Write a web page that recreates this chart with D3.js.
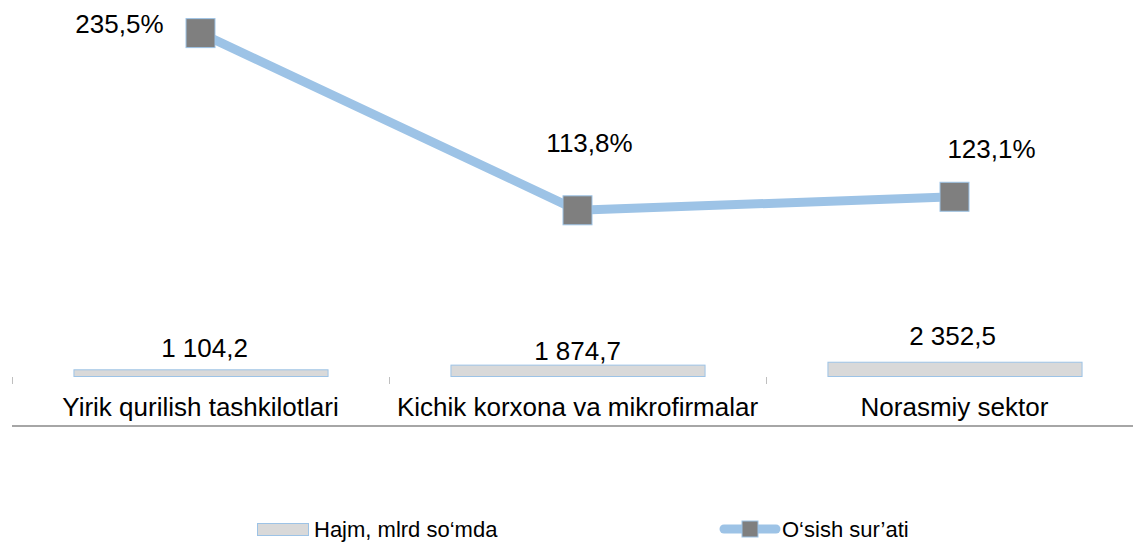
<!DOCTYPE html>
<html>
<head>
<meta charset="utf-8">
<script src="https://cdn.jsdelivr.net/npm/d3@7"></script>
<style>
  body { margin: 0; background: #fff; }
  text { font-family: "Liberation Sans", Arial, sans-serif; fill: #000; }
</style>
</head>
<body>
<div id="chart"></div>
<script>
// data
const categories = ["Yirik qurilish tashkilotlari", "Kichik korxona va mikrofirmalar", "Norasmiy sektor"];
const volume = [1104.2, 1874.7, 2352.5];      // Hajm, mlrd so‘mda
const growth = [235.5, 113.8, 123.1];         // O‘sish sur’ati, %
const seriesNames = ["Hajm, mlrd so‘mda", "O‘sish sur’ati"];

// label nudges (dx, dy) like the hand placed labels in the original
const barLabelNudge = [[4, -12], [0, -5], [-2, -17]];
const lineLabelNudge = [[-37, -9], [12, -67], [37, -48]];

const width = 1133;
const height = 542;
const lineColor = "#9dc3e6";

const svg = d3.select("#chart")
    .append("svg")
    .attr("width", width)
    .attr("height", height);

const x = d3.scaleBand()
    .domain(categories)
    .range([12, 1143])
    .paddingInner(0.326)
    .paddingOuter(0.163);

const yBar = d3.scaleLinear().domain([0, 60000]).range([376, 12]);
const yLine = d3.scaleLinear().domain([0, 250]).range([376, 12]);

const fmt = v => d3.format(",.1f")(v).replace(",", " ").replace(".", ",");

// tick marks on the category boundaries
const step = x.step();
const boundaries = d3.range(categories.length + 1).map(i => 12 + i * step);
svg.append("g")
    .selectAll("line")
    .data(boundaries)
    .join("line")
    .attr("x1", d => d + 0.5)
    .attr("x2", d => d + 0.5)
    .attr("y1", 377)
    .attr("y2", 384)
    .attr("stroke", "#bfbfbf")
    .attr("stroke-width", 1);

// bars
svg.append("g")
    .selectAll("rect")
    .data(volume)
    .join("rect")
    .attr("x", (d, i) => x(categories[i]) + 0.5)
    .attr("y", d => yBar(d) + 0.5)
    .attr("width", x.bandwidth())
    .attr("height", d => yBar(0) - yBar(d))
    .attr("fill", "#d9d9d9")
    .attr("stroke", lineColor)
    .attr("stroke-width", 1);

svg.append("g")
    .selectAll("text")
    .data(volume)
    .join("text")
    .attr("x", (d, i) => x(categories[i]) + x.bandwidth() / 2 + barLabelNudge[i][0])
    .attr("y", (d, i) => yBar(d) + barLabelNudge[i][1])
    .attr("text-anchor", "middle")
    .attr("font-size", 26)
    .text(d => fmt(d));

// category labels
svg.append("g")
    .selectAll("text")
    .data(categories)
    .join("text")
    .attr("x", d => x(d) + x.bandwidth() / 2)
    .attr("y", 416)
    .attr("text-anchor", "middle")
    .attr("font-size", 26)
    .text(d => d);

// bottom rule
svg.append("line")
    .attr("x1", 12)
    .attr("x2", width)
    .attr("y1", 426)
    .attr("y2", 426)
    .attr("stroke", "#a6a6a6")
    .attr("stroke-width", 2);

// growth line
const cx = i => x(categories[i]) + x.bandwidth() / 2;
const lineGen = d3.line()
    .x((d, i) => cx(i))
    .y(d => yLine(d));

svg.append("path")
    .datum(growth)
    .attr("d", lineGen)
    .attr("fill", "none")
    .attr("stroke", lineColor)
    .attr("stroke-width", 9)
    .attr("stroke-linejoin", "round");

const ms = 29;
svg.append("g")
    .selectAll("rect")
    .data(growth)
    .join("rect")
    .attr("x", (d, i) => cx(i) - ms / 2)
    .attr("y", d => yLine(d) - ms / 2)
    .attr("width", ms)
    .attr("height", ms)
    .attr("fill", "#7f7f7f")
    .attr("stroke", lineColor)
    .attr("stroke-width", 1);

svg.append("g")
    .selectAll("text")
    .data(growth)
    .join("text")
    .attr("x", (d, i) => cx(i) + lineLabelNudge[i][0])
    .attr("y", (d, i) => yLine(d) + lineLabelNudge[i][1])
    .attr("text-anchor", (d, i) => i === 0 ? "end" : "middle")
    .attr("dominant-baseline", "central")
    .attr("font-size", 26)
    .text(d => d3.format(".1f")(d).replace(".", ",") + "%");

// legend
const legendY = 529;
const legend = svg.append("g");

legend.append("rect")
    .attr("x", 257.5)
    .attr("y", legendY - 6 + 0.5)
    .attr("width", 51)
    .attr("height", 12)
    .attr("fill", "#d9d9d9")
    .attr("stroke", lineColor);

legend.append("text")
    .attr("x", 314)
    .attr("y", legendY)
    .attr("dominant-baseline", "central")
    .attr("font-size", 22)
    .text(seriesNames[0]);

legend.append("line")
    .attr("x1", 724)
    .attr("x2", 776)
    .attr("y1", legendY)
    .attr("y2", legendY)
    .attr("stroke", lineColor)
    .attr("stroke-width", 9)
    .attr("stroke-linecap", "round");

legend.append("rect")
    .attr("x", 742)
    .attr("y", legendY - 8)
    .attr("width", 16)
    .attr("height", 16)
    .attr("fill", "#7f7f7f")
    .attr("stroke", lineColor);

legend.append("text")
    .attr("x", 782)
    .attr("y", legendY)
    .attr("dominant-baseline", "central")
    .attr("font-size", 22)
    .text(seriesNames[1]);
</script>
</body>
</html>
